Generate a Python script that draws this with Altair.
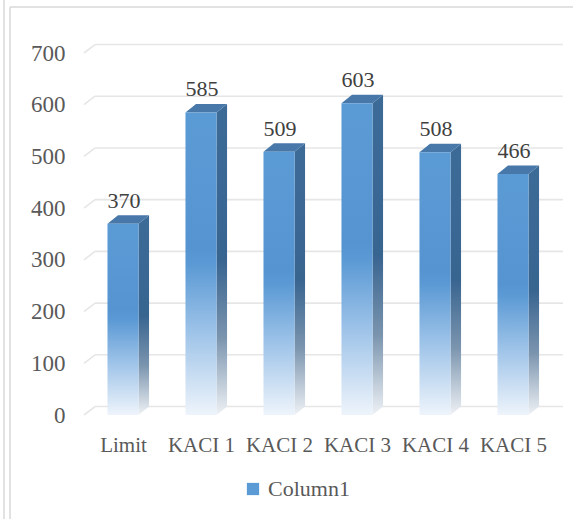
import json
import altair as alt
import pandas as pd

# Chart values
categories = ["Limit", "KACI 1", "KACI 2", "KACI 3", "KACI 4", "KACI 5"]
values = [370, 585, 509, 603, 508, 466]
y_ticks = [0, 100, 200, 300, 400, 500, 600, 700]
series_name = "Column1"

# 3-D box geometry, in data units (x: category index, y: value units)
HW = 0.199      # half width of the front face
DX = 0.135      # depth offset to the right
DY = 16.4       # depth offset upwards
GDX = 0.141     # back-wall offset of the gridlines
GX_END = 5.64   # right end of the back wall

W, H = 468, 362
FONT = "Liberation Serif"
TXT = "#595959"

front = pd.DataFrame({
    "cat": categories,
    "val": values,
    "x0": [i - HW for i in range(len(values))],
    "x1": [i + HW for i in range(len(values))],
    "xc": list(range(len(values))),
})

side_rows, top_rows = [], []
for i, (c, v) in enumerate(zip(categories, values)):
    side_rows += [
        {"cat": c, "x": i + HW, "lo": 0, "hi": v},
        {"cat": c, "x": i + HW + DX, "lo": DY, "hi": v + DY},
    ]
    top_rows += [
        {"cat": c, "x": i - HW, "lo": v, "hi": v},
        {"cat": c, "x": i - HW + DX, "lo": v, "hi": v + DY},
        {"cat": c, "x": i + HW, "lo": v, "hi": v + DY},
        {"cat": c, "x": i + HW + DX, "lo": v + DY, "hi": v + DY},
    ]
side = pd.DataFrame(side_rows)
top = pd.DataFrame(top_rows)

grid = pd.DataFrame({
    "t": y_ticks,
    "tb": [t + DY for t in y_ticks],
    "xa": [-0.5] * len(y_ticks),
    "xb": [-0.5 + GDX] * len(y_ticks),
    "xe": [GX_END] * len(y_ticks),
})

legend_df = pd.DataFrame({"series": [series_name], "xc": [0], "val": [0]})

xs = alt.Scale(domain=[-0.5, 5.5], nice=False, zero=False)
ys = alt.Scale(domain=[0, 700], nice=False, zero=False)

label_expr = json.dumps(categories) + "[datum.value]"
x_axis = alt.Axis(
    values=list(range(len(categories))), labelExpr=label_expr, title=None,
    ticks=False, tickSize=0, domain=False, grid=False, labelFont=FONT,
    labelFontSize=21, labelColor=TXT, labelBaseline="alphabetic",
    labelPadding=36, labelFlush=False, labelOverlap=False,
)
y_axis = alt.Axis(
    values=y_ticks, title=None, ticks=False, tickSize=0, domain=False,
    grid=False, labelFont=FONT, labelFontSize=23, labelColor=TXT,
    labelPadding=19,
)


def grad(stops):
    return alt.Gradient(
        gradient="linear", x1=0, y1=0, x2=0, y2=1,
        stops=[alt.GradientStop(offset=o, color=c) for o, c in stops],
    )


front_grad = grad([(0, "#5b9bd5"), (0.45, "#5694d1"), (0.5, "#5a99d4"),
                   (0.72, "#9cc2e8"), (1, "#eef4fb")])
side_grad = grad([(0, "#3d6b98"), (0.5, "#386490"), (0.75, "#7a94ae"),
                  (1, "#eef1f5")])

# Back-wall gridlines and their floor stubs
grid_back = alt.Chart(grid).mark_rule(color="#e6e6e6", strokeWidth=1.6).encode(
    x=alt.X("xb:Q", scale=xs, axis=x_axis), x2="xe:Q",
    y=alt.Y("tb:Q", scale=ys, axis=y_axis),
)
grid_stub = alt.Chart(grid).mark_rule(color="#e6e6e6", strokeWidth=1.6).encode(
    x=alt.X("xa:Q", scale=xs), x2="xb:Q",
    y=alt.Y("t:Q", scale=ys), y2="tb:Q",
)

side_faces = alt.Chart(side).mark_area(fill=side_grad, interpolate="linear").encode(
    x=alt.X("x:Q", scale=xs), y=alt.Y("lo:Q", scale=ys), y2="hi:Q",
    detail="cat:N",
)
top_faces = alt.Chart(top).mark_area(fill="#4878aa", interpolate="linear").encode(
    x=alt.X("x:Q", scale=xs), y=alt.Y("lo:Q", scale=ys), y2="hi:Q",
    detail="cat:N",
)
front_faces = alt.Chart(front).mark_rect(fill=front_grad).encode(
    x=alt.X("x0:Q", scale=xs), x2="x1:Q",
    y=alt.Y("val:Q", scale=ys), y2=alt.datum(0),
)
value_labels = alt.Chart(front).mark_text(
    font=FONT, fontSize=22, color="#404040", baseline="alphabetic",
    dy=-16, dx=1,
).encode(
    x=alt.X("xc:Q", scale=xs), y=alt.Y("val:Q", scale=ys),
    text=alt.Text("val:Q"),
)

legend_layer = alt.Chart(legend_df).mark_square(opacity=0, size=0).encode(
    x=alt.X("xc:Q", scale=xs), y=alt.Y("val:Q", scale=ys),
    color=alt.Color(
        "series:N", scale=alt.Scale(range=["#5b9bd5"]),
        legend=alt.Legend(
            title=None, orient="none", legendX=158, legendY=425,
            symbolType="square", symbolSize=150, symbolOpacity=1,
            symbolFillColor="#5b9bd5", symbolStrokeWidth=0,
            labelFont=FONT, labelFontSize=22, labelColor=TXT, labelOffset=4,
        ),
    ),
)

# Outer frame lines
frame_l1 = alt.Chart(legend_df).mark_rule(color="#d9d9d9", strokeWidth=1.5).encode(
    x=alt.value(-80), y=alt.value(-53), y2=alt.value(470))
frame_l2 = alt.Chart(legend_df).mark_rule(color="#d9d9d9", strokeWidth=1.5).encode(
    x=alt.value(-74), y=alt.value(-46), y2=alt.value(470))
frame_top = alt.Chart(legend_df).mark_rule(color="#d9d9d9", strokeWidth=1.5).encode(
    x=alt.value(-74), x2=alt.value(495), y=alt.value(-46))

chart = alt.layer(
    frame_l1, frame_l2, frame_top,
    grid_back, grid_stub, side_faces, top_faces, front_faces,
    value_labels, legend_layer,
).properties(
    width=W, height=H,
    autosize=alt.AutoSizeParams(type="none"),
    padding={"left": 84, "top": 53, "right": 21, "bottom": 104},
    background="white",
).configure_view(stroke=None)

chart.save("out.html", embed_options={"renderer": "svg", "actions": False})
